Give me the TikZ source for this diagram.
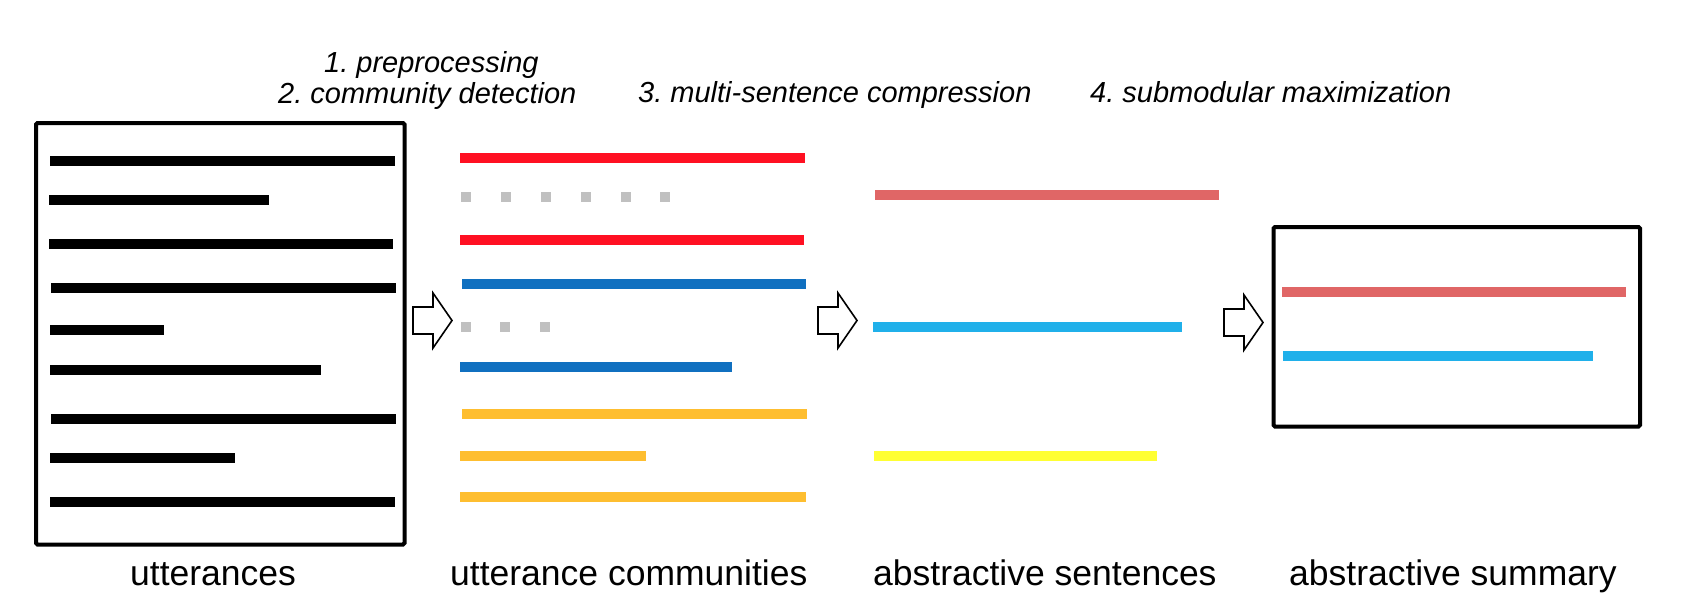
\documentclass[tikz,border=0pt]{standalone}
\usepackage{fontspec}
\setmainfont{Liberation Sans}
\definecolor{cred}{RGB}{255,16,34}
\definecolor{cgrey}{RGB}{192,192,192}
\definecolor{cblue}{RGB}{16,112,192}
\definecolor{corange}{RGB}{254,190,48}
\definecolor{cpink}{RGB}{224,102,102}
\definecolor{ccyan}{RGB}{32,176,234}
\definecolor{cyellow}{RGB}{255,255,51}
\begin{document}
\frenchspacing
\begin{tikzpicture}[x=1pt,y=-1pt,
  bar/.style={line width=10pt},
  dotsq/.style={fill=cgrey,minimum size=10pt,inner sep=0pt},
  docbox/.style={draw=black,line width=4pt,rounded corners=1.5pt,inner sep=0pt},
  steplabel/.style={inner sep=0pt,anchor=base west,font=\fontsize{29}{34}\selectfont\itshape\frenchspacing},
  colabel/.style={inner sep=0pt,anchor=base west,font=\fontsize{35.5}{42}\selectfont},
  blockarrow/.pic={\draw[line width=1.6pt,fill=white,line join=miter]
     (0,-13.5) -- (20,-13.5) -- (20,-27.5) -- (39,0) -- (20,27.5) -- (20,13.5) -- (0,13.5) -- cycle;}]
\useasboundingbox (0,0) rectangle (1688,614);
% boxes
\node[docbox,minimum width=368.5pt,minimum height=421.5pt] (utt) at (220.25,333.75) {};
\node[docbox,minimum width=366.5pt,minimum height=199.5pt] (summ) at (1456.75,326.75) {};
% utterances
\draw[bar] (50,161) -- (395,161);
\draw[bar] (49,200) -- (269,200);
\draw[bar] (49,244) -- (393,244);
\draw[bar] (51,288) -- (396,288);
\draw[bar] (50,330) -- (164,330);
\draw[bar] (50,370) -- (321,370);
\draw[bar] (51,419) -- (396,419);
\draw[bar] (50,458) -- (235,458);
\draw[bar] (50,502) -- (395,502);
% communities
\draw[bar,cred] (460,158) -- (805,158);
\foreach \i/\x in {1/466,2/506,3/546,4/586,5/626,6/665} \node[dotsq] (da\i) at (\x,197) {};
\draw[bar,cred] (460,240) -- (804,240);
\draw[bar,cblue] (462,284) -- (806,284);
\foreach \i/\x in {1/466,2/505,3/545} \node[dotsq] (db\i) at (\x,327) {};
\draw[bar,cblue] (460,367) -- (732,367);
\draw[bar,corange] (462,414) -- (807,414);
\draw[bar,corange] (460,456) -- (646,456);
\draw[bar,corange] (460,497) -- (806,497);
% abstractive sentences
\draw[bar,cpink] (875,195) -- (1219,195);
\draw[bar,ccyan] (873,327) -- (1182,327);
\draw[bar,cyellow] (874,456) -- (1157,456);
% summary
\draw[bar,cpink] (1282,292) -- (1626,292);
\draw[bar,ccyan] (1283,356) -- (1593,356);
% arrows
\pic at (413,320.5) {blockarrow};
\pic at (818,320.5) {blockarrow};
\pic at (1224,322.5) {blockarrow};
% step labels
\node[steplabel] (s1) at (324,72) {1. preprocessing};
\node[steplabel] (s2) at (278,103) {2. community detection};
\node[steplabel] (s3) at (638,102) {3. multi-sentence compression};
\node[steplabel] (s4) at (1090,102) {4. submodular maximization};
% column labels
\node[colabel] (l1) at (130,585) {utterances};
\node[colabel] (l2) at (450,585) {utterance communities};
\node[colabel] (l3) at (873,585) {abstractive sentences};
\node[colabel] (l4) at (1289,585) {abstractive summary};
\end{tikzpicture}
\end{document}
